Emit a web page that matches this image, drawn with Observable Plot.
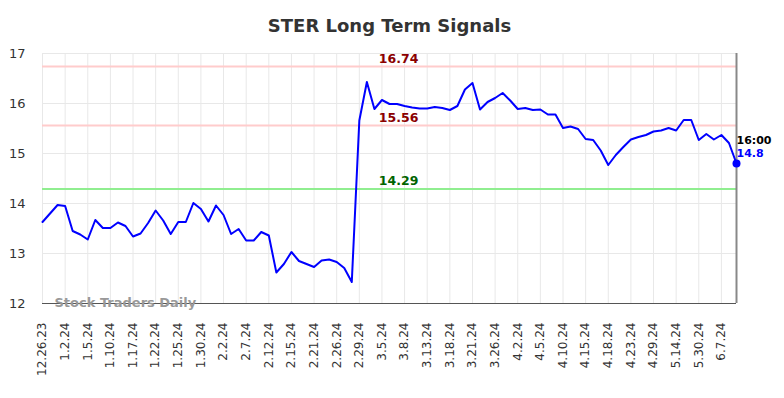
<!DOCTYPE html>
<html>
<head>
<meta charset="utf-8">
<script src="https://cdn.jsdelivr.net/npm/d3@7"></script>
<script src="https://cdn.jsdelivr.net/npm/@observablehq/plot@0.6"></script>
<style>
  html, body { margin: 0; padding: 0; background: #fff; }
  #chart svg { display: block; }
</style>
</head>
<body>
<div id="chart"></div>
<script>
const title = "STER Long Term Signals";
const tickLabels = ["12.26.23","1.2.24","1.5.24","1.10.24","1.17.24","1.22.24","1.25.24","1.30.24","2.2.24","2.7.24","2.12.24","2.15.24","2.21.24","2.26.24","2.29.24","3.5.24","3.8.24","3.13.24","3.18.24","3.21.24","3.26.24","4.2.24","4.5.24","4.10.24","4.15.24","4.18.24","4.23.24","4.29.24","5.14.24","5.30.24","6.7.24"];
const tickStep = 3;
const prices = [13.63,13.80,13.97,13.95,13.45,13.38,13.28,13.67,13.51,13.51,
  13.62,13.55,13.34,13.40,13.61,13.86,13.66,13.39,13.63,13.63,
  14.01,13.89,13.64,13.96,13.77,13.39,13.49,13.26,13.26,13.43,
  13.36,12.62,12.79,13.03,12.85,12.79,12.73,12.86,12.88,12.83,
  12.71,12.43,15.66,16.43,15.89,16.07,15.99,15.99,15.95,15.92,
  15.90,15.90,15.93,15.91,15.87,15.95,16.28,16.41,15.88,16.03,
  16.11,16.21,16.06,15.89,15.91,15.87,15.88,15.78,15.78,15.51,
  15.54,15.49,15.29,15.27,15.06,14.77,14.97,15.13,15.28,15.33,
  15.37,15.44,15.46,15.51,15.46,15.67,15.67,15.27,15.39,15.28,
  15.37,15.21,14.80];
const signalValues = [16.74, 15.56, 14.29];
const signalKinds = ["resistance", "resistance", "support"];
const yTicks = [12, 13, 14, 15, 16, 17];
const lastTimeLabel = "16:00";
const watermark = "Stock Traders Daily";

const data = prices.map((v, i) => ({i, v}));
const ticks = tickLabels.map((label, k) => ({i: k * tickStep, label}));
const signals = signalValues.map((v, k) => ({v, kind: signalKinds[k]}));
const last = data[data.length - 1];
const lineColor = d => d.kind === "support" ? "#90ee90" : "#ffcccc";
const textColor = d => d.kind === "support" ? "#006400" : "#8b0000";
const labelX = 47.2;

const chart = Plot.plot({
  width: 784,
  height: 398,
  marginLeft: 42,
  marginRight: 48,
  marginTop: 53,
  marginBottom: 95,
  style: {fontFamily: "DejaVu Sans, sans-serif", background: "#fff", overflow: "visible"},
  x: {domain: [0, prices.length - 1], axis: null},
  y: {domain: [12, 17], axis: null},
  marks: [
    Plot.gridX(ticks.map(d => d.i), {stroke: "#e8e8e8", strokeOpacity: 1, strokeWidth: 1}),
    Plot.gridY(yTicks, {stroke: "#e8e8e8", strokeOpacity: 1, strokeWidth: 1}),
    Plot.axisY(yTicks, {tickSize: 0, tickPadding: 17, fontSize: 13, fill: "#333", label: null, tickFormat: d => d}),
    Plot.text(ticks, {x: "i", text: "label", frameAnchor: "bottom", dy: 19, rotate: -90, textAnchor: "end", lineAnchor: "middle", fontSize: 12, fill: "#333"}),
    Plot.ruleY(signals, {y: "v", stroke: lineColor, strokeWidth: 2}),
    Plot.text(signals, {x: () => labelX, y: "v", text: d => d.v.toFixed(2), dy: -8, fill: textColor, fontWeight: "bold", fontSize: 12.5}),
    Plot.ruleY([12], {stroke: "#555", strokeWidth: 1.2}),
    Plot.ruleX([last.i], {stroke: "#888", strokeWidth: 2}),
    Plot.text([watermark], {frameAnchor: "bottom-left", dx: 12, dy: -1, lineAnchor: "middle", textAnchor: "start", fill: "#999", fontWeight: "bold", fontSize: 13}),
    Plot.line(data, {x: "i", y: "v", stroke: "#0000ff", strokeWidth: 2}),
    Plot.dot([last], {x: "i", y: "v", r: 4, fill: "#0000ff"}),
    Plot.text([last], {x: "i", y: "v", text: () => lastTimeLabel, dy: -23, textAnchor: "start", fill: "#000", fontWeight: "bold", fontSize: 11}),
    Plot.text([last], {x: "i", y: "v", text: d => String(d.v.toFixed(1)), dy: -10, textAnchor: "start", fill: "#0000ff", fontWeight: "bold", fontSize: 11}),
    Plot.text([title], {frameAnchor: "top", dy: -27, fontSize: 18, fontWeight: "bold", fill: "#333", lineAnchor: "middle"})
  ]
});
document.getElementById("chart").appendChild(chart);
</script>
</body>
</html>
